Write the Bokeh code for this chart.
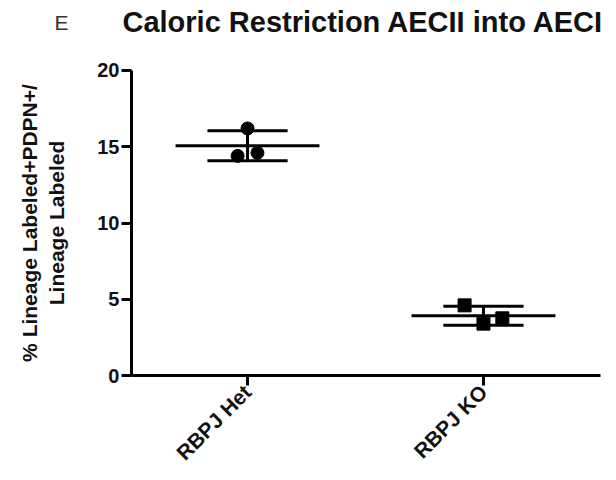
import numpy as np
from bokeh.plotting import figure
from bokeh.models import Range1d, FixedTicker
from bokeh.core.properties import value
from bokeh.embed import file_html
from bokeh.resources import INLINE

# ---- data ----
groups = ["RBPJ Het", "RBPJ KO"]
group_pos = [1, 2]
het_values = [16.2, 14.4, 14.6]
het_offsets = [0.0, -0.042, 0.042]
ko_values = [4.6, 3.4, 3.75]
ko_offsets = [-0.08, 0.0, 0.08]
y_ticks = [0, 5, 10, 15, 20]
title_text = "Caloric Restriction AECII into AECI"
panel_letter = "E"
y_label = "% Lineage Labeled+PDPN+/\nLineage Labeled"

FONT = "Liberation Sans"

# axes span (data units) and the visible window around them
X_AXIS = (0.508, 2.496)
Y_AXIS = (0, 20)

p = figure(width=608, height=472, output_backend="svg", toolbar_location=None,
           x_range=Range1d(-0.047, 2.530), y_range=Range1d(-6.36, 24.59),
           min_border=0)
p.outline_line_color = None
p.grid.visible = False
p.background_fill_color = "white"

for ax in (p.xaxis[0], p.yaxis[0]):
    ax.axis_line_width = 3
    ax.axis_line_color = "black"
    ax.major_tick_line_width = 3
    ax.major_tick_line_color = "black"
    ax.major_tick_out = 10
    ax.major_tick_in = 0
    ax.minor_tick_line_color = None
    ax.major_label_text_font = FONT
    ax.major_label_text_font_style = "bold"
    ax.major_label_text_font_size = "20px"
    ax.major_label_text_color = "#111111"

p.yaxis.fixed_location = X_AXIS[0]
p.yaxis.bounds = Y_AXIS
p.yaxis.ticker = FixedTicker(ticks=y_ticks)
p.yaxis.major_label_standoff = 2
p.yaxis.axis_label = y_label
p.yaxis.axis_label_text_font = FONT
p.yaxis.axis_label_text_font_style = "bold"
p.yaxis.axis_label_text_font_size = "21px"
p.yaxis.axis_label_standoff = 26
p.yaxis.axis_label_text_align = "center"
p.yaxis.axis_label_text_color = "#111111"

p.xaxis.fixed_location = Y_AXIS[0]
p.xaxis.bounds = X_AXIS
p.xaxis.ticker = FixedTicker(ticks=group_pos)
p.xaxis.major_label_overrides = {g: n for g, n in zip(group_pos, groups)}
p.xaxis.major_label_orientation = np.pi / 4
p.xaxis.major_label_standoff = 3
p.xaxis.major_label_text_font_size = "21px"

all_vals = [het_values, ko_values]
all_offs = [het_offsets, ko_offsets]
mean_half = 0.305
sd_half = 0.17
for gp, vals, offs, marker in zip(group_pos, all_vals, all_offs, ["circle", "square"]):
    m = float(np.mean(vals))
    sd = float(np.std(vals, ddof=1))
    p.segment(x0=[gp - mean_half], x1=[gp + mean_half], y0=[m], y1=[m],
              line_color="black", line_width=3)
    p.segment(x0=[gp - sd_half, gp - sd_half], x1=[gp + sd_half, gp + sd_half],
              y0=[m + sd, m - sd], y1=[m + sd, m - sd], line_color="black", line_width=3)
    p.segment(x0=[gp], x1=[gp], y0=[m - sd], y1=[m + sd], line_color="black", line_width=3)
    xs = [gp + o for o in offs]
    p.scatter(xs, vals, marker=marker, size=13, fill_color="black", line_color="black")

# header texts (panel letter and title), above the plotting area
p.text(x=[0.182], y=[23.15], text=[panel_letter], text_font=value(FONT),
       text_font_size="21px", text_baseline="middle", text_align="left",
       text_color="#333333")
p.text(x=[0.470], y=[23.15], text=[title_text], text_font=value(FONT),
       text_font_style="bold", text_font_size="29px", text_baseline="middle",
       text_align="left", text_color="#111111")

open("out.html", "w").write(file_html(p, INLINE))
